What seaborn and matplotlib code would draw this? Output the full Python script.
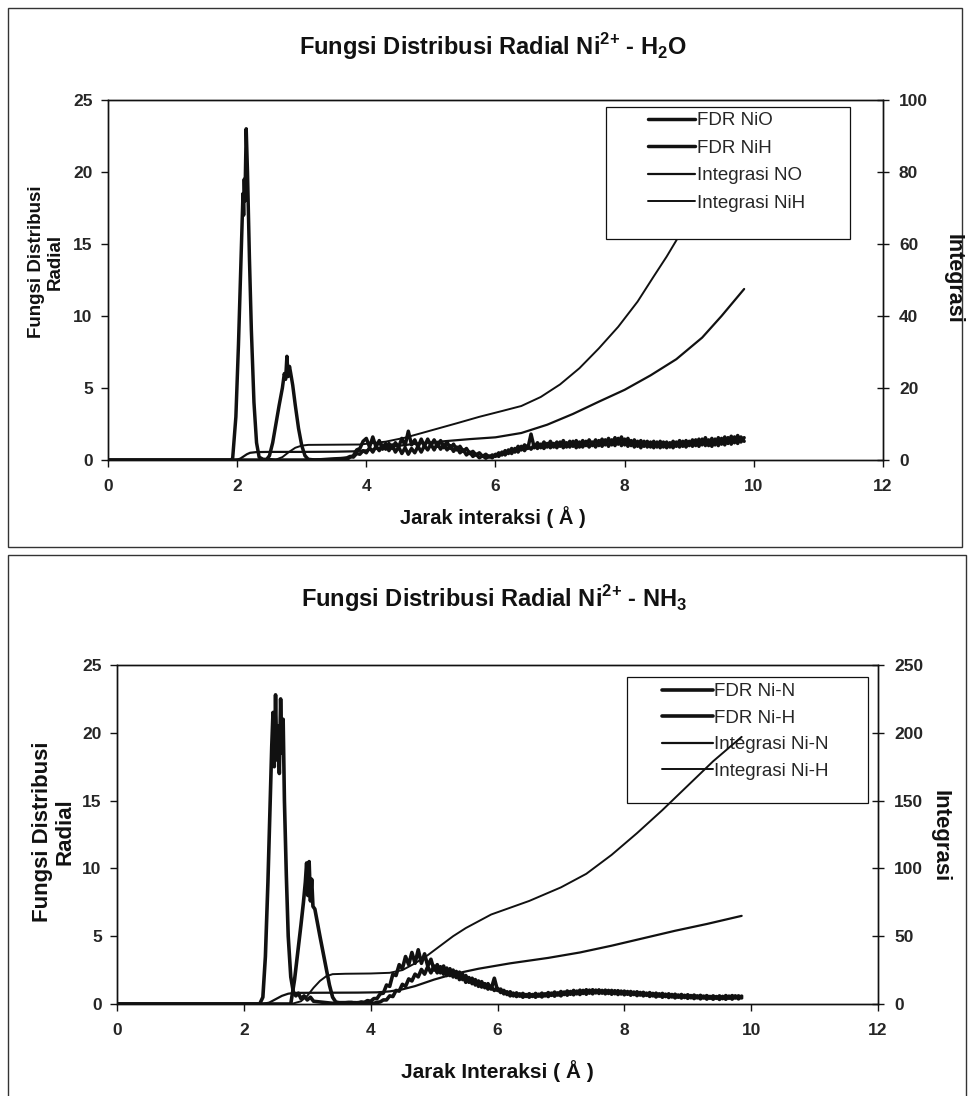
import matplotlib
matplotlib.use("Agg")
import matplotlib.pyplot as plt
from matplotlib.patches import Rectangle
import seaborn as sns

sns.set_theme(style="white")
plt.rcParams["font.family"] = ["Liberation Sans", "DejaVu Sans"]
plt.rcParams["font.weight"] = "bold"
plt.rcParams["mathtext.fontset"] = "custom"
plt.rcParams["mathtext.rm"] = "Liberation Sans"
plt.rcParams["mathtext.bf"] = "Liberation Sans:bold"

# ---------------------------------------------------------------- Ni2+ - H2O
# first-shell peaks (r in angstrom, g(r))
h2o_nio_head_r = [0.00, 1.90, 1.93, 1.98, 2.02, 2.06, 2.09, 2.10, 2.11, 2.12, 2.14,
                  2.16, 2.19, 2.22, 2.26, 2.30, 2.34, 2.40, 2.60, 3.00, 3.40, 3.65]
h2o_nio_head_g = [0.0, 0.0, 0.1, 3.0, 8.0, 14.0, 18.5, 17.0, 19.5, 18.0, 23.0,
                  20.0, 14.0, 9.0, 4.0, 1.2, 0.2, 0.05, 0.0, 0.0, 0.02, 0.03]
h2o_nih_head_r = [0.00, 2.45, 2.50, 2.55, 2.60, 2.65, 2.70, 2.73, 2.75, 2.77, 2.79,
                  2.81, 2.83, 2.86, 2.90, 2.95, 3.00, 3.05, 3.10, 3.20, 3.30, 3.40,
                  3.50, 3.60, 3.65]
h2o_nih_head_g = [0.0, 0.0, 0.3, 1.2, 2.5, 3.8, 5.0, 6.0, 5.6, 7.2, 5.8,
                  6.5, 6.0, 5.2, 3.8, 2.2, 1.0, 0.3, 0.05, 0.0, 0.02, 0.05,
                  0.08, 0.1, 0.12]

# outer region sampled every 0.05 angstrom
tail_r = [3.70, 3.75, 3.80, 3.85, 3.90, 3.95,
          4.00, 4.05, 4.10, 4.15, 4.20, 4.25, 4.30, 4.35, 4.40, 4.45,
          4.50, 4.55, 4.60, 4.65, 4.70, 4.75, 4.80, 4.85, 4.90, 4.95,
          5.00, 5.05, 5.10, 5.15, 5.20, 5.25, 5.30, 5.35, 5.40, 5.45,
          5.50, 5.55, 5.60, 5.65, 5.70, 5.75, 5.80, 5.85, 5.90, 5.95,
          6.00, 6.05, 6.10, 6.15, 6.20, 6.25, 6.30, 6.35, 6.40, 6.45,
          6.50, 6.55, 6.60, 6.65, 6.70, 6.75, 6.80, 6.85, 6.90, 6.95,
          7.00, 7.05, 7.10, 7.15, 7.20, 7.25, 7.30, 7.35, 7.40, 7.45,
          7.50, 7.55, 7.60, 7.65, 7.70, 7.75, 7.80, 7.85, 7.90, 7.95,
          8.00, 8.05, 8.10, 8.15, 8.20, 8.25, 8.30, 8.35, 8.40, 8.45,
          8.50, 8.55, 8.60, 8.65, 8.70, 8.75, 8.80, 8.85, 8.90, 8.95,
          9.00, 9.05, 9.10, 9.15, 9.20, 9.25, 9.30, 9.35, 9.40, 9.45,
          9.50, 9.55, 9.60, 9.65, 9.70, 9.75, 9.80, 9.85]

h2o_nio_tail_g = [0.05, 0.2, 0.3, 0.7, 0.8, 1.3,
                  1.5, 0.9, 1.6, 0.9, 1.35, 0.75, 1.15, 0.65, 1.05, 0.55,
                  0.9, 0.45, 0.85, 0.4, 0.8, 0.5, 0.95, 0.55, 1.0, 0.7,
                  1.1, 0.7, 1.15, 0.75, 1.1, 0.7, 1.0, 0.6, 0.9, 0.5,
                  0.7, 0.35, 0.55, 0.25, 0.4, 0.15, 0.3, 0.12, 0.28, 0.15,
                  0.4, 0.25, 0.55, 0.35, 0.7, 0.45, 0.8, 0.55, 0.95, 0.65,
                  1.0, 0.75, 1.05, 0.8, 1.1, 0.8, 1.15, 0.85, 1.15, 0.85,
                  1.25, 0.85, 1.2, 0.9, 1.3, 0.85, 1.25, 0.9, 1.3, 0.9,
                  1.25, 0.9, 1.35, 0.95, 1.4, 0.95, 1.4, 1.0, 1.5, 1.0,
                  1.45, 0.95, 1.35, 0.9, 1.3, 0.85, 1.3, 0.9, 1.25, 0.85,
                  1.25, 0.85, 1.25, 0.85, 1.2, 0.85, 1.25, 0.9, 1.3, 0.9,
                  1.3, 0.95, 1.4, 0.95, 1.45, 1.0, 1.4, 0.95, 1.45, 1.0,
                  1.5, 1.05, 1.55, 1.1, 1.6, 1.15, 1.6, 1.3]
h2o_nih_tail_g = [0.15, 0.25, 0.2, 0.45, 0.4, 0.65,
                  0.5, 0.85, 0.55, 0.95, 0.65, 1.05, 0.75, 1.15, 0.8, 1.2,
                  0.9, 1.5, 1.0, 2.0, 1.05, 1.4, 0.9, 1.45, 0.95, 1.45,
                  1.0, 1.4, 0.95, 1.35, 0.85, 1.25, 0.8, 1.1, 0.7, 0.95,
                  0.6, 0.8, 0.45, 0.6, 0.35, 0.5, 0.25, 0.4, 0.2, 0.35,
                  0.25, 0.5, 0.35, 0.65, 0.45, 0.8, 0.55, 0.95, 0.7, 1.05,
                  0.8, 1.8, 0.85, 1.2, 0.85, 1.25, 0.9, 1.3, 0.9, 1.25,
                  0.95, 1.35, 0.9, 1.3, 0.95, 1.35, 0.9, 1.35, 1.0, 1.4,
                  1.0, 1.4, 1.0, 1.45, 1.05, 1.5, 1.05, 1.55, 1.1, 1.6,
                  1.05, 1.5, 1.0, 1.4, 0.95, 1.35, 0.95, 1.3, 0.9, 1.3,
                  0.9, 1.3, 0.9, 1.25, 0.9, 1.3, 0.95, 1.35, 0.95, 1.35,
                  1.0, 1.4, 1.0, 1.45, 1.05, 1.55, 1.0, 1.5, 1.05, 1.55,
                  1.1, 1.6, 1.15, 1.65, 1.2, 1.7, 1.25, 1.55]

# running coordination numbers
h2o_int_no_r = [0.0, 1.95, 2.00, 2.05, 2.10, 2.15, 2.20, 2.30, 2.50, 3.00, 3.50,
                3.80, 4.00, 4.30, 4.80, 5.20, 5.60, 6.00, 6.40, 6.80, 7.20,
                7.60, 8.00, 8.40, 8.80, 9.20, 9.50, 9.85]
h2o_int_no_n = [0.0, 0.0, 0.1, 0.4, 1.0, 1.6, 2.0, 2.2, 2.25, 2.25, 2.3,
                2.4, 2.7, 3.5, 4.6, 5.2, 5.8, 6.3, 7.5, 9.8, 12.8,
                16.2, 19.5, 23.5, 28.0, 34.0, 40.0, 47.5]
h2o_int_nih_r = [0.0, 2.55, 2.60, 2.70, 2.80, 2.90, 3.00, 3.10, 3.50, 3.90, 4.00,
                 4.30, 4.60, 5.00, 5.40, 5.75, 6.10, 6.40, 6.70, 7.00, 7.30,
                 7.60, 7.90, 8.20, 8.45, 8.65, 8.85, 9.05, 9.25, 9.45, 9.65, 9.85]
h2o_int_nih_n = [0.0, 0.0, 0.1, 0.8, 2.2, 3.4, 4.0, 4.2, 4.25, 4.3, 4.5,
                 5.1, 6.2, 8.2, 10.2, 12.0, 13.6, 15.0, 17.5, 21.0, 25.5,
                 31.0, 37.0, 44.0, 51.0, 56.5, 62.5, 68.0, 74.0, 80.0, 86.0, 92.0]

# ---------------------------------------------------------------- Ni2+ - NH3
nh3_nin_head_r = [0.00, 2.25, 2.30, 2.34, 2.38, 2.41, 2.44, 2.46, 2.48, 2.50, 2.52,
                  2.54, 2.56, 2.58, 2.60, 2.62, 2.64, 2.67, 2.70, 2.74, 2.78,
                  2.82, 2.86, 2.90, 2.95, 3.00, 3.05, 3.10, 3.20, 3.30, 3.40,
                  3.50, 3.60, 3.65]
nh3_nin_head_g = [0.0, 0.0, 0.5, 3.5, 9.0, 14.0, 19.0, 21.5, 17.5, 22.8, 18.0,
                  20.5, 17.0, 22.5, 18.5, 21.0, 15.0, 9.5, 5.0, 2.0, 0.9,
                  0.6, 0.8, 0.4, 0.6, 0.3, 0.5, 0.2, 0.15, 0.1, 0.05,
                  0.05, 0.05, 0.05]
nh3_nih_head_r = [0.00, 2.74, 2.80, 2.85, 2.90, 2.94, 2.97, 2.99, 3.01, 3.03, 3.05,
                  3.07, 3.09, 3.12, 3.16, 3.20, 3.25, 3.30, 3.35, 3.40, 3.45,
                  3.50, 3.60, 3.65]
nh3_nih_head_g = [0.0, 0.0, 1.8, 3.8, 5.8, 7.5, 9.0, 10.4, 8.0, 10.5, 7.6,
                  9.2, 7.2, 7.0, 6.0, 5.0, 3.8, 2.6, 1.4, 0.5, 0.15,
                  0.1, 0.1, 0.12]

nh3_nin_tail_g = [0.05, 0.1, 0.08, 0.15, 0.12, 0.25,
                  0.2, 0.4, 0.4, 0.75, 0.8, 1.4, 1.3, 2.2, 2.1, 2.9,
                  2.6, 3.5, 2.9, 3.8, 3.0, 4.0, 3.0, 3.7, 2.8, 3.3,
                  2.5, 2.9, 2.3, 2.8, 2.1, 2.6, 2.0, 2.4, 1.8, 2.2,
                  1.6, 1.95, 1.5, 1.8, 1.3, 1.65, 1.2, 1.5, 1.1, 1.9,
                  1.0, 1.1, 0.75, 0.9, 0.6, 0.8, 0.55, 0.75, 0.5, 0.7,
                  0.5, 0.7, 0.5, 0.72, 0.52, 0.75, 0.55, 0.8, 0.58, 0.82,
                  0.6, 0.88, 0.65, 0.92, 0.68, 0.95, 0.7, 1.0, 0.72, 1.02,
                  0.75, 1.02, 0.78, 1.0, 0.75, 1.0, 0.72, 0.98, 0.7, 0.95,
                  0.68, 0.92, 0.65, 0.88, 0.62, 0.85, 0.6, 0.8, 0.56, 0.78,
                  0.52, 0.75, 0.5, 0.72, 0.48, 0.7, 0.45, 0.66, 0.44, 0.64,
                  0.42, 0.62, 0.4, 0.6, 0.38, 0.58, 0.36, 0.56, 0.35, 0.55,
                  0.34, 0.56, 0.35, 0.58, 0.36, 0.6, 0.38, 0.58]
nh3_nih_tail_g = [0.12, 0.08, 0.1, 0.06, 0.08, 0.05,
                  0.08, 0.05, 0.12, 0.15, 0.3, 0.3, 0.6, 0.55, 1.0, 0.95,
                  1.45, 1.3, 1.85, 1.7, 2.2, 2.0, 2.55, 2.2, 2.75, 2.3,
                  2.8, 2.3, 2.75, 2.2, 2.65, 2.1, 2.5, 1.95, 2.35, 1.8,
                  2.1, 1.6, 1.9, 1.4, 1.7, 1.25, 1.5, 1.1, 1.3, 1.0,
                  1.15, 0.85, 1.0, 0.7, 0.9, 0.6, 0.82, 0.58, 0.78, 0.56,
                  0.76, 0.56, 0.78, 0.58, 0.8, 0.6, 0.84, 0.64, 0.88, 0.66,
                  0.92, 0.7, 0.96, 0.72, 1.0, 0.75, 1.02, 0.78, 1.05, 0.8,
                  1.05, 0.82, 1.04, 0.8, 1.02, 0.78, 1.0, 0.76, 0.98, 0.74,
                  0.95, 0.72, 0.92, 0.7, 0.9, 0.66, 0.86, 0.64, 0.84, 0.6,
                  0.8, 0.58, 0.78, 0.55, 0.75, 0.52, 0.72, 0.5, 0.7, 0.48,
                  0.68, 0.46, 0.66, 0.45, 0.64, 0.44, 0.62, 0.42, 0.6, 0.42,
                  0.6, 0.4, 0.62, 0.42, 0.62, 0.44, 0.6, 0.45]

nh3_int_nn_r = [0.0, 2.30, 2.40, 2.50, 2.60, 2.70, 2.80, 3.20, 3.80, 4.10, 4.30,
                4.50, 4.70, 5.00, 5.30, 5.70, 6.20, 6.80, 7.30, 7.80, 8.30,
                8.80, 9.30, 9.85]
nh3_int_nn_n = [0.0, 0.0, 1.0, 3.5, 6.0, 7.6, 8.2, 8.3, 8.4, 8.6, 9.3,
                10.8, 13.2, 18.0, 22.0, 26.0, 30.0, 34.0, 38.0, 43.0, 48.5,
                54.0, 59.0, 65.0]
nh3_int_nh_r = [0.0, 2.75, 2.90, 3.00, 3.10, 3.20, 3.30, 3.40, 3.60, 4.00, 4.30,
                4.50, 4.70, 4.90, 5.10, 5.30, 5.50, 5.70, 5.90, 6.20, 6.50,
                7.00, 7.40, 7.80, 8.20, 8.60, 9.00, 9.40, 9.85]
nh3_int_nh_n = [0.0, 0.0, 2.0, 6.0, 12.0, 17.0, 20.5, 22.0, 22.3, 22.5, 23.0,
                25.0, 30.0, 36.0, 43.0, 50.0, 56.0, 61.0, 66.0, 71.0, 76.0,
                86.0, 96.0, 110.0, 126.0, 143.0, 161.0, 179.0, 197.0]

h2o_labels = ["FDR NiO", "FDR NiH", "Integrasi NO", "Integrasi NiH"]
nh3_labels = ["FDR Ni-N", "FDR Ni-H", "Integrasi Ni-N", "Integrasi Ni-H"]
x_ticks = [0, 2, 4, 6, 8, 10, 12]

W, H = 969, 1096
fig = plt.figure(figsize=(W / 100, H / 100), dpi=100)
fig.patch.set_facecolor("white")

INK = "#111111"


def px_axes(x0, y0, x1, y1):
    return fig.add_axes([x0 / W, 1 - y1 / H, (x1 - x0) / W, (y1 - y0) / H])


def style_axes(ax, ax2, ymax2, step2):
    ax.set_xlim(0, 12)
    ax.set_ylim(0, 25)
    ax.set_xticks(x_ticks)
    ax.set_yticks([0, 5, 10, 15, 20, 25])
    ax2.set_ylim(0, ymax2)
    ax2.set_yticks(list(range(0, ymax2 + 1, step2)))
    ax.set_xlabel("")
    ax.set_ylabel("")
    ax2.set_ylabel("")
    for a in (ax, ax2):
        for s in a.spines.values():
            s.set_color(INK)
            s.set_linewidth(1.0)
    ax.tick_params(axis="x", direction="out", length=5, width=1, color=INK,
                   labelsize=12.5, pad=9, bottom=True)
    ax.tick_params(axis="y", direction="out", length=5, width=1, color=INK,
                   labelsize=12.5, pad=6, left=True)
    ax2.tick_params(axis="y", direction="inout", length=9, width=1, color=INK,
                    labelsize=12.5, pad=7, right=True)
    for lab in ax.get_xticklabels() + ax.get_yticklabels() + ax2.get_yticklabels():
        lab.set_fontweight("bold")


def draw_panel(ax, ax2, fdr_a, fdr_b, int_a, int_b, lw_fdr):
    lines = []
    for r, g in (fdr_a, fdr_b):
        sns.lineplot(x=r, y=g, ax=ax, color=INK, lw=lw_fdr, estimator=None,
                     sort=False, legend=False)
        lines.append(ax.lines[-1])
    for (r, n), lw in ((int_a, 1.6), (int_b, 1.4)):
        sns.lineplot(x=r, y=n, ax=ax2, color=INK, lw=lw, estimator=None,
                     sort=False, legend=False)
        lines.append(ax2.lines[-1])
    return lines


# ------------------------------------------------------------- upper panel
ax_t = px_axes(108, 100, 883, 460)
ax_t2 = ax_t.twinx()
lines_t = draw_panel(
    ax_t, ax_t2,
    (h2o_nio_head_r + tail_r, h2o_nio_head_g + h2o_nio_tail_g),
    (h2o_nih_head_r + tail_r, h2o_nih_head_g + h2o_nih_tail_g),
    (h2o_int_no_r, h2o_int_no_n),
    (h2o_int_nih_r, h2o_int_nih_n),
    2.5,
)
style_axes(ax_t, ax_t2, 100, 20)

frame_t = Rectangle((0.6426, 0.6139), 0.3148, 0.3667, transform=ax_t2.transAxes,
                    facecolor="white", edgecolor=INK, lw=0.9, zorder=4)
ax_t2.add_patch(frame_t)
leg_t = ax_t2.legend(lines_t, h2o_labels, loc="upper left",
                     bbox_to_anchor=(0.697, 0.966), frameon=False, borderpad=0,
                     borderaxespad=0, handlelength=2.5, handletextpad=0.1,
                     labelspacing=0.55, prop={"size": 13.5, "weight": "normal"})
leg_t.set_zorder(5)

fig.text(493 / W, 1 - 47 / H, r"Fungsi Distribusi Radial Ni$^{\mathbf{2{+}}}$ - H$_{\mathbf{2}}$O",
         ha="center", va="center", fontsize=17, fontweight="bold", color=INK)
fig.text(46 / W, 1 - 262 / H, "Fungsi Distribusi\nRadial", rotation=90,
         ha="center", va="center", fontsize=13.5, fontweight="bold", color=INK,
         linespacing=1.1)
fig.text(953 / W, 1 - 279 / H, "Integrasi", rotation=-90, ha="center",
         va="center", fontsize=15.5, fontweight="bold", color=INK)
fig.text(493 / W, 1 - 517 / H, "Jarak interaksi ( Å )", ha="center",
         va="center", fontsize=14.5, fontweight="bold", color=INK)

# ------------------------------------------------------------- lower panel
ax_b = px_axes(117, 665, 878, 1004)
ax_b2 = ax_b.twinx()
lines_b = draw_panel(
    ax_b, ax_b2,
    (nh3_nin_head_r + tail_r, nh3_nin_head_g + nh3_nin_tail_g),
    (nh3_nih_head_r + tail_r, nh3_nih_head_g + nh3_nih_tail_g),
    (nh3_int_nn_r, nh3_int_nn_n),
    (nh3_int_nh_r, nh3_int_nh_n),
    2.6,
)
style_axes(ax_b, ax_b2, 250, 50)

frame_b = Rectangle((0.6702, 0.5929), 0.3167, 0.3717, transform=ax_b.transAxes,
                    facecolor="white", edgecolor=INK, lw=0.9, zorder=4)
ax_b.add_patch(frame_b)
leg_b = ax_b.legend(lines_b, nh3_labels, loc="upper left",
                    bbox_to_anchor=(0.716, 0.946), frameon=False, borderpad=0,
                    borderaxespad=0, handlelength=2.7, handletextpad=0.1,
                    labelspacing=0.5, prop={"size": 13.5, "weight": "normal"})
leg_b.set_zorder(5)

fig.text(494 / W, 1 - 599 / H, r"Fungsi Distribusi Radial Ni$^{\mathbf{2{+}}}$ - NH$_{\mathbf{3}}$",
         ha="center", va="center", fontsize=17, fontweight="bold", color=INK)
fig.text(54 / W, 1 - 832 / H, "Fungsi Distribusi\nRadial", rotation=90,
         ha="center", va="center", fontsize=16, fontweight="bold", color=INK,
         linespacing=1.1)
fig.text(940 / W, 1 - 836 / H, "Integrasi", rotation=-90, ha="center",
         va="center", fontsize=16, fontweight="bold", color=INK)
fig.text(497 / W, 1 - 1071 / H, "Jarak Interaksi ( Å )", ha="center",
         va="center", fontsize=15, fontweight="bold", color=INK)

# panel outlines
fig.add_artist(Rectangle((8 / W, 1 - 547 / H), 954 / W, 539 / H,
                         transform=fig.transFigure, fill=False,
                         edgecolor="#333333", lw=1.0))
fig.add_artist(Rectangle((8 / W, -0.01), 958 / W, 1 - 555 / H + 0.01,
                         transform=fig.transFigure, fill=False,
                         edgecolor="#333333", lw=1.0))

fig.savefig("out.png", dpi=100, facecolor="white")
